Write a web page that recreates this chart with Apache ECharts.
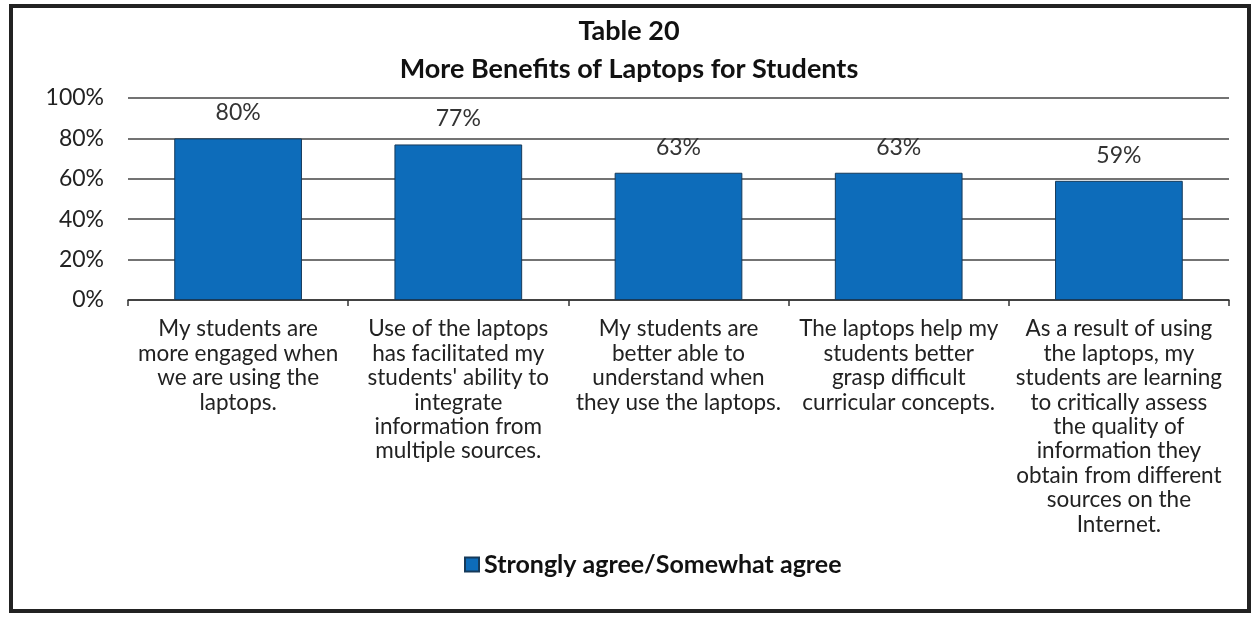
<!DOCTYPE html>
<html>
<head>
<meta charset="utf-8">
<script src="https://cdn.jsdelivr.net/npm/echarts@6/dist/echarts.min.js"></script>
<style>
html, body { margin: 0; padding: 0; background: #fff; }
#main { width: 1258px; height: 618px; }
</style>
</head>
<body>
<div id="main"></div>
<script>
var categories = [
    'My students are\nmore engaged when\nwe are using the\nlaptops.',
    'Use of the laptops\nhas facilitated my\nstudents\' ability to\nintegrate\ninformation from\nmultiple sources.',
    'My students are\nbetter able to\nunderstand when\nthey use the laptops.',
    'The laptops help my\nstudents better\ngrasp difficult\ncurricular concepts.',
    'As a result of using\nthe laptops, my\nstudents are learning\nto critically assess\nthe quality of\ninformation they\nobtain from different\nsources on the\nInternet.'
];
var agreeValues = [80, 77, 63, 63, 59];
var seriesName = 'Strongly agree/Somewhat agree';
var yTicks = [0, 20, 40, 60, 80, 100];

var fontName = 'Lato, "Open Sans", sans-serif';

var chart = echarts.init(document.getElementById('main'));

var option = {
    backgroundColor: '#fff',
    animation: false,
    title: {
        text: 'Table 20\nMore Benefits of Laptops for Students',
        left: 'center',
        top: 7,
        textStyle: {
            fontFamily: fontName,
            fontSize: 27,
            fontWeight: 'bold',
            color: '#111',
            lineHeight: 38
        }
    },
    legend: {
        data: [seriesName],
        left: 459,
        top: 547,
        itemWidth: 14,
        itemHeight: 14,
        itemGap: 5,
        icon: 'rect',
        textStyle: {
            fontFamily: fontName,
            fontSize: 25,
            fontWeight: 'bold',
            color: '#111'
        }
    },
    grid: {
        left: 128,
        right: 29,
        top: 98,
        height: 202
    },
    xAxis: {
        type: 'category',
        data: categories,
        axisLine: { lineStyle: { color: '#333', width: 1.5 } },
        axisTick: { show: true, length: 6, lineStyle: { color: '#333', width: 1.5 } },
        axisLabel: {
            interval: 0,
            margin: 17,
            fontFamily: fontName,
            fontSize: 22.5,
            lineHeight: 24.4,
            color: '#222',
            align: 'center'
        }
    },
    yAxis: {
        type: 'value',
        min: 0,
        max: 100,
        interval: 20,
        axisLine: { show: false },
        axisTick: { show: false },
        splitLine: { lineStyle: { color: '#444', width: 1.5 } },
        axisLabel: {
            margin: 24,
            fontFamily: fontName,
            fontSize: 23,
            color: '#222',
            formatter: function (v) { return yTicks.indexOf(v) >= 0 ? v + '%' : ''; }
        }
    },
    series: [
        {
            name: seriesName,
            type: 'bar',
            data: agreeValues,
            barWidth: '58%',
            itemStyle: {
                color: '#0d6cba',
                borderColor: '#163a5a',
                borderWidth: 1
            },
            label: {
                show: true,
                position: 'top',
                distance: 14,
                fontFamily: fontName,
                fontSize: 23,
                color: '#333',
                formatter: '{c}%'
            }
        }
    ],
    graphic: [
        {
            type: 'rect',
            shape: { x: 11, y: 6, width: 1238, height: 605 },
            style: { fill: 'none', stroke: '#222', lineWidth: 4 },
            silent: true
        }
    ]
};

chart.setOption(option);
</script>
</body>
</html>
